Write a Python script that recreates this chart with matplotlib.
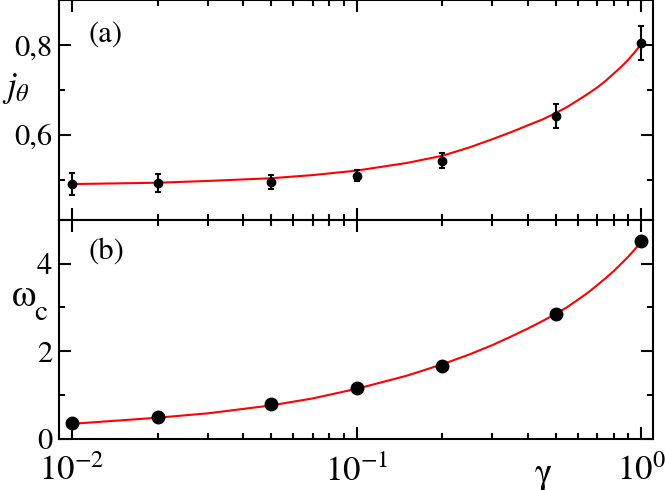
import numpy as np
import matplotlib
matplotlib.use("Agg")
import matplotlib.pyplot as plt
from matplotlib.ticker import LogLocator, LogFormatterMathtext, MultipleLocator, NullFormatter, FuncFormatter

plt.rcParams['font.family'] = ['STIXGeneral', 'DejaVu Serif']
plt.rcParams['mathtext.fontset'] = 'stix'

#   Data points
gamma = [0.01, 0.02, 0.05, 0.1, 0.2, 0.5, 1.0]
j_theta = [0.490, 0.492, 0.495, 0.509, 0.542, 0.641, 0.804]
j_err = [0.024, 0.020, 0.015, 0.012, 0.017, 0.027, 0.038]
omega_c = [0.36, 0.49, 0.79, 1.16, 1.66, 2.84, 4.53]

#   Fitted curves (sampled from the figure)
gamma_fit = [0.01, 0.02, 0.03, 0.05, 0.07, 0.1, 0.15, 0.2, 0.25, 0.3, 0.35, 0.4, 0.45,
             0.5, 0.55, 0.6, 0.65, 0.7, 0.75, 0.8, 0.85, 0.9, 0.95, 1.0]
j_fit = [0.490, 0.493, 0.497, 0.503, 0.510, 0.520, 0.537, 0.553, 0.572, 0.590, 0.606,
         0.621, 0.634, 0.648, 0.662, 0.677, 0.691, 0.705, 0.720, 0.736, 0.751, 0.767,
         0.784, 0.802]
omega_fit = [0.34, 0.48, 0.58, 0.76, 0.92, 1.14, 1.44, 1.70, 1.93, 2.14, 2.34, 2.52,
             2.69, 2.85, 3.01, 3.18, 3.34, 3.51, 3.67, 3.83, 4.00, 4.16, 4.33, 4.51]

fig = plt.figure(figsize=(6.65, 4.9), dpi=100)
left, right = 59/665, 653/665
ax1 = fig.add_axes([left, 1 - 220/490, right - left, 220/490])
ax2 = fig.add_axes([left, 1 - 438.7/490, right - left, 218.7/490])

#   Panel (a)
ax1.plot(gamma_fit, j_fit, color='red', lw=1.5, zorder=2)
ax1.errorbar(gamma, j_theta, yerr=j_err, fmt='o', color='black', ms=6,
             elinewidth=1.5, capsize=2.5, capthick=1.5, zorder=3)
ax1.set_ylim(0.41, 0.9)
ax1.yaxis.set_major_locator(MultipleLocator(0.2))
ax1.yaxis.set_minor_locator(MultipleLocator(0.1))
ax1.yaxis.set_major_formatter(FuncFormatter(lambda v, p: '{:.1f}'.format(v).replace('.', ',')))

#   Panel (b)
ax2.plot(gamma_fit, omega_fit, color='red', lw=1.5, zorder=2)
ax2.plot(gamma, omega_c, 'o', color='black', ms=9, zorder=3)
ax2.set_ylim(0, 5)
ax2.yaxis.set_major_locator(MultipleLocator(2))
ax2.yaxis.set_minor_locator(MultipleLocator(1))

for ax in (ax1, ax2):
    ax.set_xscale('log')
    ax.set_xlim(0.009, 1.1)
    ax.xaxis.set_major_locator(LogLocator(base=10))
    ax.xaxis.set_minor_locator(LogLocator(base=10, subs=np.arange(2, 10)))
    ax.xaxis.set_minor_formatter(NullFormatter())
    ax.tick_params(which='both', direction='in', top=True, right=True, width=1.5)
    ax.tick_params(which='major', length=8.5)
    ax.tick_params(which='minor', length=4.3)
    ax.tick_params(axis='y', labelsize=22, pad=5)
    for s in ax.spines.values():
        s.set_linewidth(1.5)

ax1.xaxis.set_major_formatter(NullFormatter())
ax2.xaxis.set_major_formatter(LogFormatterMathtext())
ax2.tick_params(axis='x', labelsize=25, pad=12)

#   Labels
fig.text(16/665, 1 - 88/490, r'$j_\theta$', fontsize=25, ha='center', va='center')
fig.text(24/665, 1 - 297/490, '\u03c9', fontsize=28, ha='center', va='center')
fig.text(41/665, 1 - 313/490, 'c', fontsize=21, ha='center', va='center')
fig.text(543/665, 1 - 483/490, '\u03b3', fontsize=26, ha='center', va='baseline')
fig.text(89/665, 1 - 35/490, '(a)', fontsize=22, ha='left', va='center')
fig.text(89/665, 1 - 252/490, '(b)', fontsize=22, ha='left', va='center')

fig.savefig('out.png', dpi=100)
